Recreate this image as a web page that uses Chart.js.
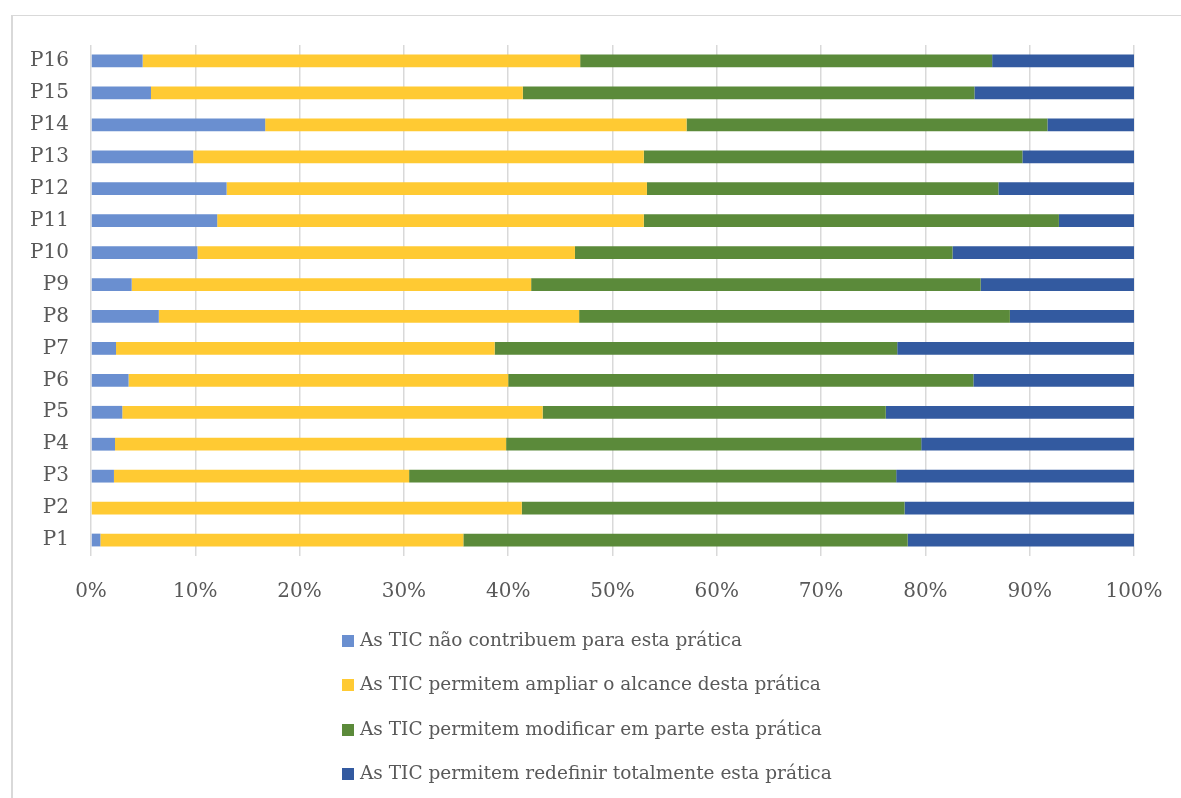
<!DOCTYPE html>
<html>
<head>
<meta charset="utf-8">
<script src="https://cdn.jsdelivr.net/npm/chart.js@4/dist/chart.umd.min.js"></script>
<style>
    body { margin: 0; background: #fff; }
    #wrap { position: relative; width: 1181px; height: 798px; overflow: hidden; }
    #frame { position: absolute; left: 11px; top: 15px; right: -20px; bottom: -20px;
             border-left: 2px solid #d9d9d9; border-top: 1px solid #d9d9d9; }
    #myChart { position: absolute; left: 0; top: 0; }
    #legend { position: absolute; left: 342px; top: 624px; font-family: "DejaVu Serif", serif;
              font-size: 18.5px; color: #595959; }
    .leg-item { height: 44.3px; line-height: 32px; white-space: nowrap; }
    .leg-box { display: inline-block; width: 12px; height: 12px; margin-right: 6px; vertical-align: -1px; }
</style>
</head>
<body>
<div id="wrap">
    <div id="frame"></div>
    <canvas id="myChart" width="1181" height="798"></canvas>
    <div id="legend"></div>
</div>
<script>
// categories, bottom to top
var categories = ["P1", "P2", "P3", "P4", "P5", "P6", "P7", "P8",
                  "P9", "P10", "P11", "P12", "P13", "P14", "P15", "P16"];

var seriesNames = [
    "As TIC não contribuem para esta prática",
    "As TIC permitem ampliar o alcance desta prática",
    "As TIC permitem modificar em parte esta prática",
    "As TIC permitem redefinir totalmente esta prática"
];

// percentages per category (P1..P16)
var naoContribuem = [0.9, 0, 2.2, 2.3, 3.0, 3.6, 2.4, 6.5, 3.9, 10.2, 12.1, 13.0, 9.8, 16.7, 5.75, 4.95];
var ampliar       = [34.8, 41.3, 28.3, 37.5, 40.3, 36.4, 36.3, 40.3, 38.3, 36.2, 40.9, 40.3, 43.2, 40.4, 35.65, 41.95];
var modificar     = [42.6, 36.7, 46.7, 39.8, 32.9, 44.6, 38.6, 41.3, 43.1, 36.2, 39.8, 33.7, 36.3, 34.6, 43.3, 39.5];
var redefinir     = [21.7, 22.0, 22.8, 20.4, 23.8, 15.4, 22.7, 11.9, 14.7, 17.4, 7.2, 13.0, 10.7, 8.3, 15.3, 13.6];

var xTicks = [0, 10, 20, 30, 40, 50, 60, 70, 80, 90, 100];

var barColors = ["#6a8fd0", "#ffca33", "#5b8a3a", "#335aa0"];
var seriesData = [naoContribuem, ampliar, modificar, redefinir];

var datasets = seriesNames.map(function (name, i) {
    return {
        label: name,
        data: seriesData[i],
        backgroundColor: barColors[i],
        borderWidth: 0,
        barPercentage: 0.4,
        categoryPercentage: 1
    };
});

new Chart("myChart", {
    type: "bar",
    data: {
        labels: categories,
        datasets: datasets
    },
    options: {
        indexAxis: "y",
        responsive: false,
        animation: false,
        layout: { padding: { top: 45, right: 47, left: 0, bottom: 0 } },
        plugins: {
            legend: { display: false },
            tooltip: { enabled: false }
        },
        scales: {
            x: {
                stacked: true,
                min: 0,
                max: 100,
                afterBuildTicks: function (scale) {
                    scale.ticks = xTicks.map(function (v) { return { value: v }; });
                },
                afterFit: function (scale) {
                    scale.height = 242;
                    scale.paddingLeft = 0;
                    scale.paddingRight = 0;
                },
                grid: { color: "#d9d9d9", lineWidth: 1.5, drawTicks: false },
                border: { display: false },
                ticks: {
                    padding: 24,
                    maxRotation: 0,
                    color: "#595959",
                    font: { family: "DejaVu Serif", size: 20 },
                    callback: function (v) { return v + "%"; }
                }
            },
            y: {
                stacked: true,
                reverse: true,
                afterFit: function (scale) { scale.width = 91; },
                grid: { display: false, drawTicks: false },
                border: { display: false },
                ticks: {
                    padding: 22,
                    color: "#595959",
                    font: { family: "DejaVu Serif", size: 20 }
                }
            }
        }
    }
});

// legend, one item per line
var legend = document.getElementById("legend");
seriesNames.forEach(function (name, i) {
    var item = document.createElement("div");
    item.className = "leg-item";
    var box = document.createElement("span");
    box.className = "leg-box";
    box.style.background = barColors[i];
    item.appendChild(box);
    item.appendChild(document.createTextNode(name));
    legend.appendChild(item);
});
</script>
</body>
</html>
